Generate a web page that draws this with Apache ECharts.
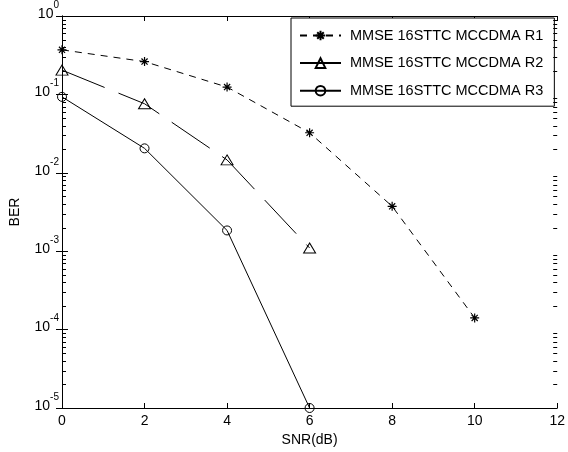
<!DOCTYPE html>
<html>
<head>
<meta charset="utf-8">
<script src="https://cdn.jsdelivr.net/npm/echarts@6/dist/echarts.min.js"></script>
<style>
html,body{margin:0;padding:0;background:#fff;}
#c{width:568px;height:452px;}
</style>
</head>
<body>
<div id="c"></div>
<script>
const snr = [0, 2, 4, 6, 8, 10];
const seriesNames = ['MMSE 16STTC MCCDMA R1', 'MMSE 16STTC MCCDMA R2', 'MMSE 16STTC MCCDMA R3'];
const berR1 = [0.37, 0.262, 0.124, 0.0324, 0.00374, 0.000141];
const berR2 = [0.204, 0.076, 0.0146, 0.0011];
const berR3 = [0.093, 0.0205, 0.00184, 0.00001];
const xTicks = [0, 2, 4, 6, 8, 10, 12];
const yDecades = [-5, -4, -3, -2, -1, 0];

const FONT = 'Liberation Sans, Arial, Helvetica, sans-serif';

// minor tick values on the log axis (2..9 x 10^k)
const minorVals = [];
for (let k = yDecades[0]; k < yDecades[yDecades.length - 1]; k++) {
  for (let m = 2; m <= 9; m++) minorVals.push(m * Math.pow(10, k));
}

const starPath = 'path://M5,0L5,10M0,5L10,5M1.6,1.6L8.4,8.4M8.4,1.6L1.6,8.4';

function pair(xs, ys) { return ys.map((v, i) => [xs[i], v]); }

const chart = echarts.init(document.getElementById('c'), null, {renderer: 'canvas'});

const axisLineStyle = {color: '#000', width: 1};

const option = {
  backgroundColor: '#fff',
  animation: false,
  textStyle: {fontFamily: FONT, color: '#000'},
  grid: {left: 62, right: 8, top: 13, bottom: 44, containLabel: false},
  xAxis: [
    {
      type: 'value', position: 'bottom', min: 0, max: 12, interval: 2,
      name: 'SNR(dB)', nameLocation: 'middle', nameGap: 12,
      nameTextStyle: {fontSize: 14, fontFamily: FONT, color: '#000'},
      axisLine: {show: true, lineStyle: axisLineStyle},
      axisTick: {show: true, inside: true, length: 5, lineStyle: axisLineStyle},
      axisLabel: {fontSize: 14, fontFamily: FONT, color: '#000', margin: 6,
        formatter: v => String(v)},
      splitLine: {show: false}
    },
    {
      type: 'value', position: 'top', min: 0, max: 12, interval: 2,
      axisLine: {show: true, lineStyle: axisLineStyle},
      axisTick: {show: true, inside: true, length: 5, lineStyle: axisLineStyle},
      axisLabel: {show: false},
      splitLine: {show: false}
    }
  ],
  yAxis: [
    {
      type: 'log', logBase: 10, position: 'left',
      min: Math.pow(10, yDecades[0]), max: Math.pow(10, yDecades[yDecades.length - 1]),
      name: 'BER', nameLocation: 'middle', nameGap: 40, nameRotate: 90,
      nameTextStyle: {fontSize: 14, fontFamily: FONT, color: '#000'},
      axisLine: {show: true, lineStyle: axisLineStyle},
      axisTick: {show: true, inside: true, length: 6, lineStyle: axisLineStyle},
      axisLabel: {
        margin: 3,
        formatter: function (v) {
          const e = Math.round(Math.log10(v));
          return '{b|10}{s|' + e + '}';
        },
        rich: {
          b: {fontSize: 14, fontFamily: FONT, color: '#000', lineHeight: 14, padding: [7, 0, 11, 0]},
          s: {fontSize: 10, fontFamily: FONT, color: '#000', lineHeight: 10, padding: [0, 0, 22, 0]}
        }
      },
      splitLine: {show: false}
    },
    {
      type: 'log', logBase: 10, position: 'right',
      min: Math.pow(10, yDecades[0]), max: Math.pow(10, yDecades[yDecades.length - 1]),
      axisLine: {show: true, lineStyle: axisLineStyle},
      axisTick: {show: true, inside: true, length: 6, lineStyle: axisLineStyle},
      axisLabel: {show: false},
      splitLine: {show: false}
    }
  ],
  legend: {
    orient: 'vertical', left: 291, top: 18,
    padding: [10, 11, 8, 8],
    itemGap: 12.6, itemWidth: 41, itemHeight: 12,
    backgroundColor: '#fff', borderColor: '#000', borderWidth: 1, borderRadius: 0,
    textStyle: {fontSize: 14.5, fontFamily: FONT, color: '#000', lineHeight: 12, padding: [0, 0, 0, 4]},
    data: [
      {name: seriesNames[0]},
      {name: seriesNames[1], lineStyle: {type: 'solid'}},
      {name: seriesNames[2]}
    ]
  },
  series: [
    {
      name: seriesNames[0], type: 'line', xAxisIndex: 0, yAxisIndex: 0,
      data: pair(snr, berR1),
      symbol: starPath, symbolSize: 9, symbolKeepAspect: true,
      itemStyle: {color: 'rgba(0,0,0,0)', borderColor: '#000', borderWidth: 1.2},
      lineStyle: {color: '#000', width: 1, type: [7, 6]},
      z: 3
    },
    {
      name: seriesNames[1], type: 'line', xAxisIndex: 0, yAxisIndex: 0,
      data: pair(snr, berR2),
      symbol: 'triangle', symbolSize: [12, 10],
      itemStyle: {color: 'rgba(0,0,0,0)', borderColor: '#000', borderWidth: 1},
      lineStyle: {color: '#000', width: 1, type: [46, 15]},
      z: 3
    },
    {
      name: seriesNames[2], type: 'line', xAxisIndex: 0, yAxisIndex: 0,
      data: pair(snr, berR3),
      symbol: 'circle', symbolSize: 9,
      itemStyle: {color: 'rgba(0,0,0,0)', borderColor: '#000', borderWidth: 1},
      lineStyle: {color: '#000', width: 1, type: 'solid'},
      z: 3
    },
    {
      name: 'minorTicks', type: 'custom', xAxisIndex: 0, yAxisIndex: 0,
      silent: true, clip: false,
      data: minorVals.map(v => [xTicks[0], v]),
      encode: {x: 0, y: 1},
      renderItem: function (params, api) {
        const v = api.value(1);
        const pL = api.coord([xTicks[0], v]);
        const pR = api.coord([xTicks[xTicks.length - 1], v]);
        const y = Math.round(pL[1]) + 0.5;
        const st = {stroke: '#000', lineWidth: 1};
        return {
          type: 'group',
          children: [
            {type: 'line', shape: {x1: pL[0], y1: y, x2: pL[0] + 4, y2: y}, style: st},
            {type: 'line', shape: {x1: pR[0], y1: y, x2: pR[0] - 4, y2: y}, style: st}
          ]
        };
      },
      z: 10
    }
  ]
};
chart.setOption(option);
</script>
</body>
</html>
